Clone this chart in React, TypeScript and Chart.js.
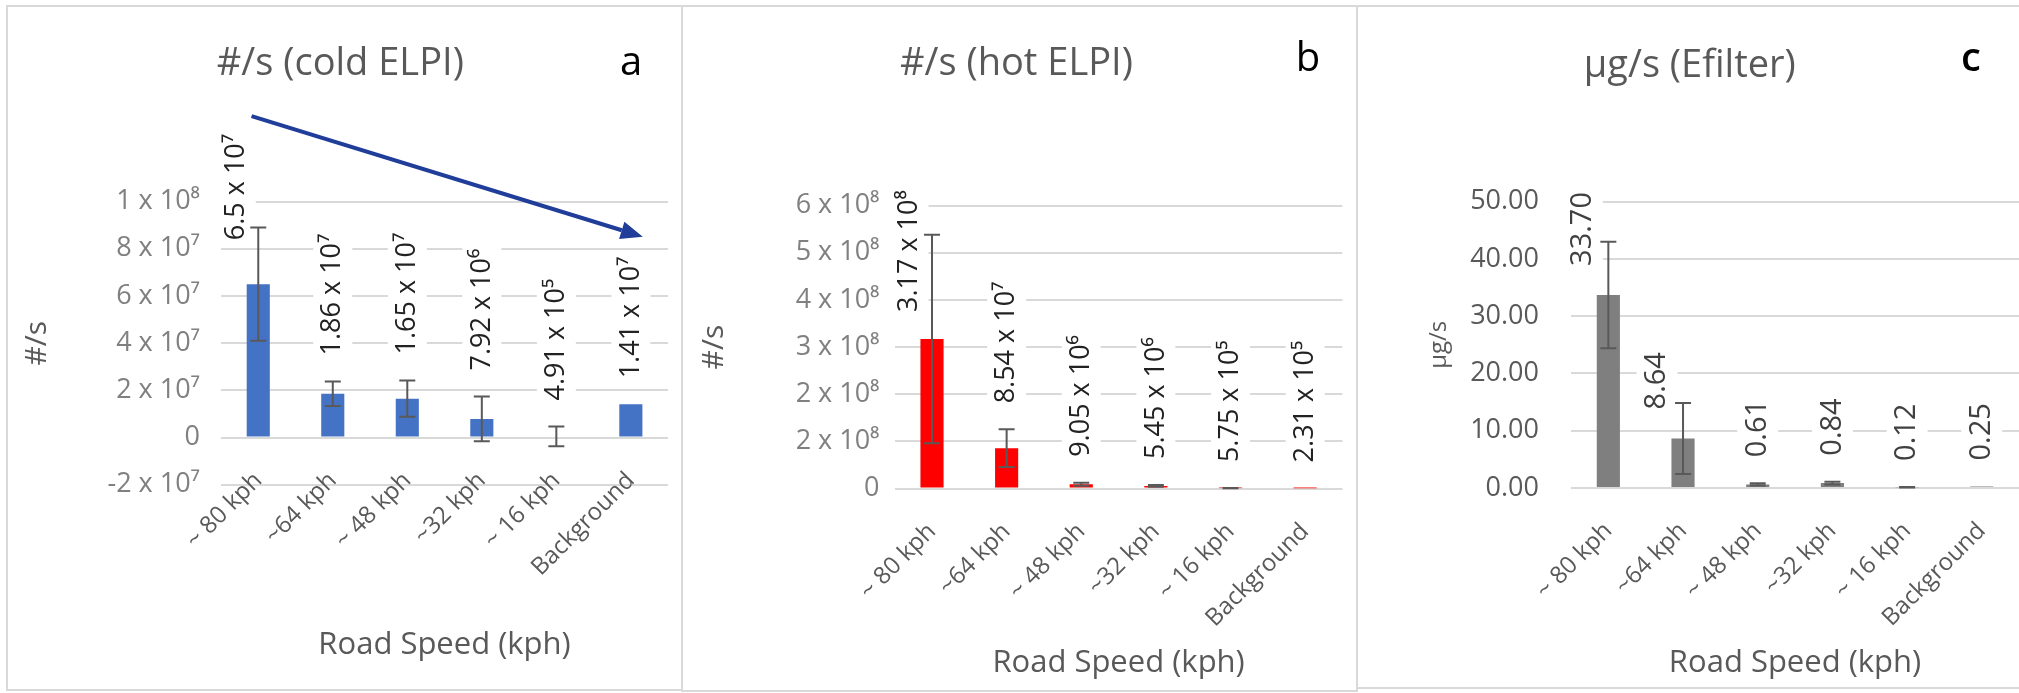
import React, { useEffect, useRef } from "react";
import { Chart, registerables } from "chart.js";
Chart.register(...registerables);

const FONT = "'Open Sans', 'Noto Sans', 'DejaVu Sans', sans-serif";

// ---------- data ----------
const categories = ["~ 80 kph", "~64 kph", "~ 48 kph", "~32 kph", "~ 16 kph", "Background"];

const coldElpi = [6.5e7, 1.86e7, 1.65e7, 7.92e6, 4.91e5, 1.41e7];
const coldElpiErr = [2.4e7, 5.2e6, 7.7e6, 9.5e6, 4.2e6, null];
const coldElpiLabels = ["6.5 x 10⁷", "1.86 x 10⁷", "1.65 x 10⁷", "7.92 x 10⁶", "4.91 x 10⁵", "1.41 x 10⁷"];
const coldTickValues = [-2e7, 0, 2e7, 4e7, 6e7, 8e7, 1e8];
const coldTickLabels = ["-2 x 10⁷", "0", "2 x 10⁷", "4 x 10⁷", "6 x 10⁷", "8 x 10⁷", "1 x 10⁸"];

const hotElpi = [3.17e8, 8.54e7, 9.05e6, 5.45e6, 5.75e5, 2.31e5];
const hotElpiErr = [2.21e8, 4.0e7, 3.0e6, 2.0e6, 3.0e5, null];
const hotElpiLabels = ["3.17 x 10⁸", "8.54 x 10⁷", "9.05 x 10⁶", "5.45 x 10⁶", "5.75 x 10⁵", "2.31 x 10⁵"];
const hotTickValues = [0, 1e8, 2e8, 3e8, 4e8, 5e8, 6e8];
const hotTickLabels = ["0", "2 x 10⁸", "2 x 10⁸", "3 x 10⁸", "4 x 10⁸", "5 x 10⁸", "6 x 10⁸"];

const efilter = [33.7, 8.64, 0.61, 0.84, 0.12, 0.25];
const efilterErr = [9.3, 6.2, 0.2, 0.25, 0.05, null];
const efilterLabels = ["33.70", "8.64", "0.61", "0.84", "0.12", "0.25"];
const efilterTickValues = [0, 10, 20, 30, 40, 50];
const efilterTickLabels = ["0.00", "10.00", "20.00", "30.00", "40.00", "50.00"];

// arrow annotation in panel a (category index / value units)
const coldArrowFrom = { x: -0.09, y: 1.362e8 };
const coldArrowTo = { x: 5.16, y: 8.51e7 };

// ---------- panel config (layout/style) ----------
type PanelCfg = {
  left: number; top: number; width: number; height: number;
  title: string; titlePad: { top: number; bottom: number };
  corner: { text: string; x: number; y: number; weight: string };
  values: number[]; errors: (number | null)[]; labels: string[];
  tickValues: number[]; tickLabels: string[];
  color: string; tickColor: string; labelColor: string; labelSize: number;
  beside: boolean[]; besideGap: number; besideShift: number;
  yTitle: string; yTitleSize: number; yTitlePad: number; yWidth: number; yTickPad: number;
  xAtZero: boolean; xHeight: number; xTitlePadBottom: number; xTickPad: number;
  padRight: number; padBottom: number;
  arrow?: { from: { x: number; y: number }; to: { x: number; y: number } };
};

const panels: PanelCfg[] = [
  {
    left: 9, top: 7, width: 672, height: 681,
    title: "#/s (cold ELPI)", titlePad: { top: 34, bottom: 115 },
    corner: { text: "a", x: 622, y: 68, weight: "normal" },
    values: coldElpi, errors: coldElpiErr, labels: coldElpiLabels,
    tickValues: coldTickValues, tickLabels: coldTickLabels,
    color: "#4472C4", tickColor: "#808080", labelColor: "#222222", labelSize: 27,
    beside: [true, false, false, false, false, false], besideGap: 44, besideShift: 22,
    yTitle: "#/s", yTitleSize: 30, yTitlePad: 10, yWidth: 212, yTickPad: 21,
    xAtZero: true, xHeight: 240, xTitlePadBottom: 13.6, xTickPad: 29,
    padRight: 9.4, padBottom: 203.2,
    arrow: { from: coldArrowFrom, to: coldArrowTo },
  },
  {
    left: 684, top: 7, width: 671, height: 682,
    title: "#/s (hot ELPI)", titlePad: { top: 34, bottom: 119 },
    corner: { text: "b", x: 624, y: 64, weight: "normal" },
    values: hotElpi, errors: hotElpiErr, labels: hotElpiLabels,
    tickValues: hotTickValues, tickLabels: hotTickLabels,
    color: "#FF0000", tickColor: "#808080", labelColor: "#222222", labelSize: 27,
    beside: [true, false, false, false, false, false], besideGap: 27, besideShift: 23,
    yTitle: "#/s", yTitleSize: 30, yTitlePad: 12.7, yWidth: 210.7, yTickPad: 15.2,
    xAtZero: false, xHeight: 200.5, xTitlePadBottom: 7.4, xTickPad: 29,
    padRight: 6.1, padBottom: 0,
  },
  {
    left: 1358, top: 7, width: 674, height: 680,
    title: "µg/s (Efilter)", titlePad: { top: 36, bottom: 113 },
    corner: { text: "c", x: 613, y: 64, weight: "600" },
    values: efilter, errors: efilterErr, labels: efilterLabels,
    tickValues: efilterTickValues, tickLabels: efilterTickLabels,
    color: "#7F7F7F", tickColor: "#595959", labelColor: "#404040", labelSize: 29,
    beside: [true, true, false, false, false, false], besideGap: 29, besideShift: 26,
    yTitle: "µg/s", yTitleSize: 24, yTitlePad: 67, yWidth: 213, yTickPad: 32,
    xAtZero: false, xHeight: 199.1, xTitlePadBottom: 5.4, xTickPad: 29,
    padRight: 10.4, padBottom: 0,
  },
];

function makeExtras(cfg: PanelCfg) {
  return {
    id: "panelExtras",
    afterDatasetsDraw(chart: any) {
      const ctx = chart.ctx;
      const xs = chart.scales.x;
      const ys = chart.scales.y;
      // data labels (rotated, white background)
      cfg.values.forEach((v, i) => {
        const err = cfg.errors[i];
        const px = xs.getPixelForValue(i);
        const yBar = ys.getPixelForValue(v);
        const yErr = err != null ? ys.getPixelForValue(v + err) : yBar;
        const beside = cfg.beside[i];
        const anchor = beside ? yBar - cfg.besideGap : Math.min(yBar, yErr) - 26;
        const lx = px - (beside ? cfg.besideShift : 0);
        ctx.save();
        ctx.font = `${cfg.labelSize}px ${FONT}`;
        const w = ctx.measureText(cfg.labels[i]).width;
        ctx.translate(lx, anchor);
        ctx.rotate(-Math.PI / 2);
        ctx.fillStyle = "#ffffff";
        ctx.fillRect(-4, -cfg.labelSize * 0.5 - 6, w + 8, cfg.labelSize + 12);
        ctx.fillStyle = cfg.labelColor;
        ctx.textAlign = "left";
        ctx.textBaseline = "middle";
        ctx.fillText(cfg.labels[i], 0, 0);
        ctx.restore();
      });
      // error bars
      ctx.save();
      ctx.strokeStyle = "#595959";
      ctx.lineWidth = 2;
      cfg.values.forEach((v, i) => {
        const e = cfg.errors[i];
        if (e == null) return;
        const px = xs.getPixelForValue(i);
        const yt = ys.getPixelForValue(v + e);
        const yb = ys.getPixelForValue(v - e);
        const cap = 8;
        ctx.beginPath();
        ctx.moveTo(px, yt); ctx.lineTo(px, yb);
        ctx.moveTo(px - cap, yt); ctx.lineTo(px + cap, yt);
        ctx.moveTo(px - cap, yb); ctx.lineTo(px + cap, yb);
        ctx.stroke();
      });
      ctx.restore();
    },
    afterDraw(chart: any) {
      const ctx = chart.ctx;
      ctx.save();
      ctx.fillStyle = "#000000";
      ctx.font = `${cfg.corner.weight} 40px ${FONT}`;
      ctx.textAlign = "center";
      ctx.textBaseline = "alphabetic";
      ctx.fillText(cfg.corner.text, cfg.corner.x, cfg.corner.y);
      ctx.restore();
      if (cfg.arrow) {
        const xs = chart.scales.x;
        const ys = chart.scales.y;
        const x1 = xs.getPixelForValue(cfg.arrow.from.x);
        const y1 = ys.getPixelForValue(cfg.arrow.from.y);
        const x2 = xs.getPixelForValue(cfg.arrow.to.x);
        const y2 = ys.getPixelForValue(cfg.arrow.to.y);
        const ang = Math.atan2(y2 - y1, x2 - x1);
        const headLen = 22, headHalf = 9;
        const bx = x2 - headLen * Math.cos(ang);
        const by = y2 - headLen * Math.sin(ang);
        ctx.save();
        ctx.strokeStyle = "#1F3D99";
        ctx.fillStyle = "#1F3D99";
        ctx.lineWidth = 4;
        ctx.beginPath();
        ctx.moveTo(x1, y1);
        ctx.lineTo(bx, by);
        ctx.stroke();
        ctx.beginPath();
        ctx.moveTo(x2, y2);
        ctx.lineTo(bx + headHalf * Math.sin(ang), by - headHalf * Math.cos(ang));
        ctx.lineTo(bx - headHalf * Math.sin(ang), by + headHalf * Math.cos(ang));
        ctx.closePath();
        ctx.fill();
        ctx.restore();
      }
    },
  };
}

function Panel({ cfg }: { cfg: PanelCfg }) {
  const ref = useRef<HTMLCanvasElement | null>(null);
  useEffect(() => {
    if (!ref.current) return;
    const chart = new Chart(ref.current, {
      type: "bar",
      data: {
        labels: categories,
        datasets: [
          {
            data: cfg.values,
            backgroundColor: cfg.color,
            borderWidth: 0,
            barPercentage: 0.31,
            categoryPercentage: 1,
          },
        ],
      },
      options: {
        responsive: false,
        maintainAspectRatio: false,
        animation: false,
        devicePixelRatio: 1,
        layout: { padding: { left: 0, right: cfg.padRight, top: 0, bottom: cfg.padBottom } },
        plugins: {
          legend: { display: false },
          tooltip: { enabled: false },
          title: {
            display: true,
            text: cfg.title,
            color: "#595959",
            font: { family: FONT, size: 38, weight: "normal", lineHeight: 1.2 },
            padding: cfg.titlePad,
          },
        },
        scales: {
          x: {
            position: (cfg.xAtZero ? { y: 0 } : "bottom") as any,
            grid: { display: false, drawTicks: false },
            border: { display: false },
            ticks: {
              autoSkip: false,
              maxRotation: 45,
              minRotation: 45,
              color: "#595959",
              font: { family: FONT, size: 24, lineHeight: 1.2 },
              padding: cfg.xTickPad,
            },
            title: {
              display: true,
              text: "Road Speed (kph)",
              color: "#595959",
              font: { family: FONT, size: 31, lineHeight: 1.2 },
              padding: { top: 0, bottom: cfg.xTitlePadBottom },
            },
            afterFit: (s: any) => { s.height = cfg.xHeight; },
          },
          y: {
            min: cfg.tickValues[0],
            max: cfg.tickValues[cfg.tickValues.length - 1],
            grid: { color: "#D9D9D9", lineWidth: 2, drawTicks: false },
            border: { display: false },
            afterBuildTicks: (s: any) => { s.ticks = cfg.tickValues.map((v) => ({ value: v })); },
            ticks: {
              color: cfg.tickColor,
              font: { family: FONT, size: 27 },
              padding: cfg.yTickPad,
              callback: (_v: any, i: number) => cfg.tickLabels[i],
            },
            title: {
              display: true,
              text: cfg.yTitle,
              color: "#595959",
              font: { family: FONT, size: cfg.yTitleSize, lineHeight: 1.2 },
              padding: { top: cfg.yTitlePad, bottom: 0 },
            },
            afterFit: (s: any) => { s.width = cfg.yWidth; },
          },
        },
      },
      plugins: [makeExtras(cfg)],
    });
    return () => chart.destroy();
  }, [cfg]);
  return (
    <canvas
      ref={ref}
      width={cfg.width}
      height={cfg.height}
      style={{ position: "absolute", left: cfg.left, top: cfg.top, width: cfg.width, height: cfg.height }}
    />
  );
}

const borderStyle = (left: number, top: number, width: number, height: number): React.CSSProperties => ({
  position: "absolute",
  left, top, width, height,
  border: "2px solid #D9D9D9",
  boxSizing: "border-box",
});

export default function App() {
  return (
    <div style={{ position: "absolute", left: 0, top: 0, width: 2019, height: 693, overflow: "hidden", background: "#ffffff" }}>
      <div style={borderStyle(6, 5, 677, 686)} />
      <div style={borderStyle(681, 5, 677, 687)} />
      <div style={borderStyle(1356, 5, 700, 684)} />
      {panels.map((p, i) => (
        <Panel key={i} cfg={p} />
      ))}
    </div>
  );
}
